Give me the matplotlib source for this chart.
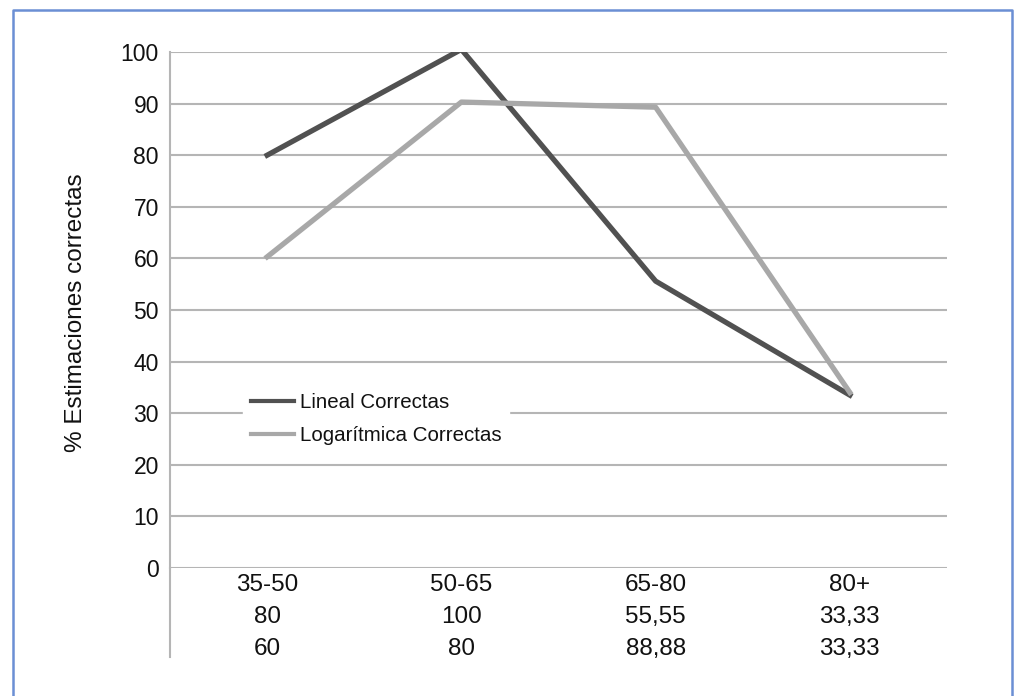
import matplotlib
matplotlib.use('Agg')
from matplotlib import pyplot as plt
import matplotlib.lines as mlines
import matplotlib.transforms as mtransforms
import numpy as np

# Datos
categorias = ['35-50', '50-65', '65-80', '80+']
lineal = [80.0, 100.5, 55.6, 33.5]
logaritmica = [60.3, 90.3, 89.3, 34.0]
fila_lineal = ['80', '100', '55,55', '33,33']
fila_log = ['60', '80', '88,88', '33,33']
y_ticks = list(range(0, 101, 10))

plt.rcParams['font.family'] = ['Liberation Sans', 'DejaVu Sans']

W, H = 1018, 696
fig = plt.figure(figsize=(W / 100, H / 100), dpi=100)

# Marco azul de la figura (sin borde inferior visible)
fig.add_artist(mlines.Line2D([13 / W, 13 / W, 1012 / W, 1012 / W],
                             [-0.01, 1 - 10 / H, 1 - 10 / H, -0.01],
                             transform=fig.transFigure, color='#6b8fd4', lw=1.8))

ax = fig.add_axes([170 / W, 1 - 568 / H, (947 - 170) / W, (568 - 52) / H])
x = np.arange(len(categorias)) + 0.5

ax.set_xlim(0, len(categorias))
ax.set_ylim(0, 100)
ax.set_yticks(y_ticks)
ax.set_xticks([])
ax.tick_params(axis='y', length=0, pad=8, labelsize=16.5, labelcolor='#111111')
ax.grid(axis='y', color='#b5b5b5', lw=1.5)
ax.set_axisbelow(True)
for s in ['top', 'right', 'bottom']:
    ax.spines[s].set_visible(False)
ax.spines['left'].set_color('#b5b5b5')
ax.spines['left'].set_linewidth(1.5)

ax.plot(x, lineal, color='#515151', lw=3.8, label='Lineal Correctas')
ax.plot(x, logaritmica, color='#a8a8a8', lw=3.8, label='Logarítmica Correctas')

# Eje izquierdo prolongado por debajo (tabla de datos)
ax.plot([0, 0], [0, -(657 - 568) / 5.16], color='#b5b5b5', lw=1.5, clip_on=False)

# Tabla de datos bajo el eje
trans = mtransforms.blended_transform_factory(ax.transData, fig.transFigure)
for xi, c, a, b in zip(x, categorias, fila_lineal, fila_log):
    ax.text(xi, 1 - 585 / H, c, transform=trans, ha='center', va='center', fontsize=17.5, color='#111111')
    ax.text(xi, 1 - 617 / H, a, transform=trans, ha='center', va='center', fontsize=17.5, color='#111111')
    ax.text(xi, 1 - 649 / H, b, transform=trans, ha='center', va='center', fontsize=17.5, color='#111111')

ax.set_ylabel('% Estimaciones correctas', fontsize=17.5, color='#111111')
ax.yaxis.set_label_coords((87 - 170) / 777, (568 - 313) / 516)

leg = ax.legend(loc='center left', bbox_to_anchor=(243 / W, 1 - 419 / H),
                bbox_transform=fig.transFigure, fontsize=14.8, frameon=True,
                fancybox=False, framealpha=1, edgecolor='white',
                handlelength=2.1, handletextpad=0.25, labelspacing=0.7,
                borderpad=0.4, borderaxespad=0)
for t in leg.get_texts():
    t.set_color('#111111')
for h in leg.get_lines():
    h.set_linewidth(3)

fig.savefig('out.png', dpi=100)
